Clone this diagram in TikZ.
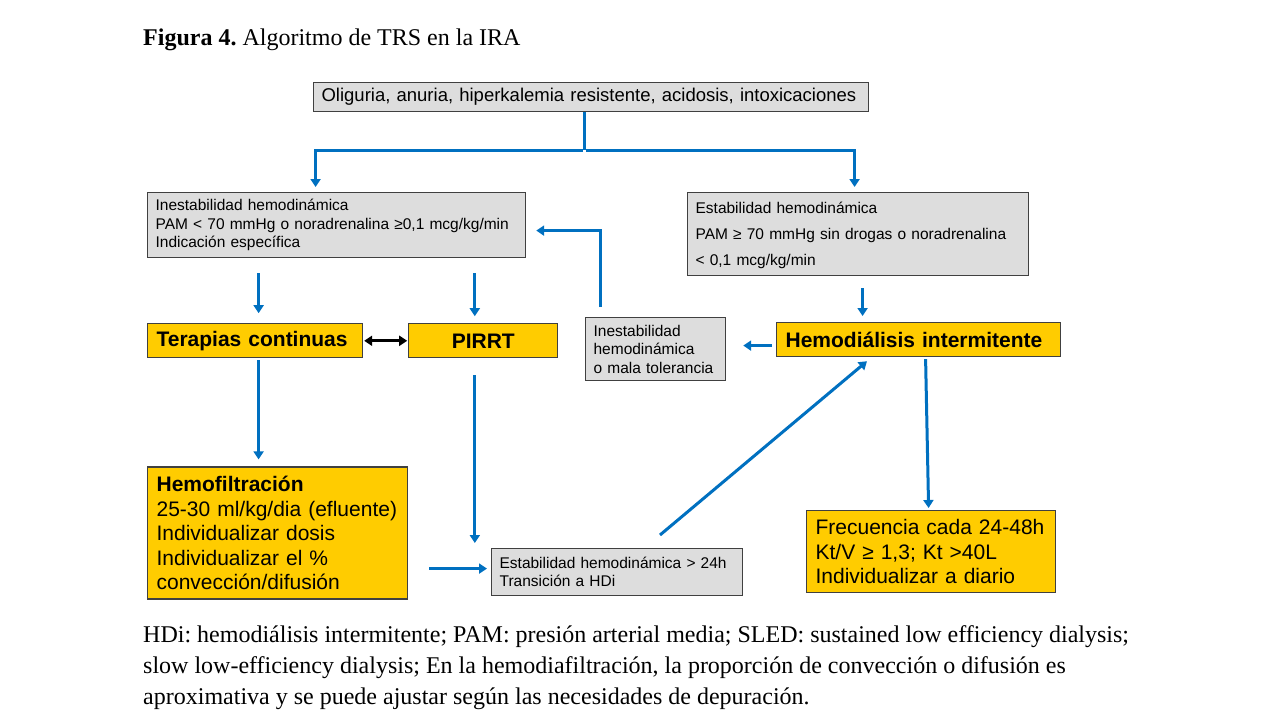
\documentclass[tikz,border=0pt]{standalone}
\usepackage{fontspec}
\setmainfont{Liberation Serif}
\newfontfamily\arialfont{Liberation Sans}
\usetikzlibrary{positioning}
\usetikzlibrary{arrows.meta}
\definecolor{myblue}{HTML}{0070C0}
\definecolor{mygray}{HTML}{DDDDDD}
\definecolor{myyellow}{HTML}{FFCC00}
\definecolor{mycontour}{HTML}{404040}
\newcommand{\boxtext}{\arialfont\fontsize{15.5}{18.5}\selectfont}
\newcommand{\bigtext}{\arialfont\fontsize{21}{24.5}\selectfont}
\frenchspacing

\begin{document}
\begin{tikzpicture}[
    x=1pt, y=-1pt,
    every node/.style={
      inner xsep=9pt,
      inner ysep=0pt,
      anchor=north west
    },
    graybox/.style={
      rectangle,
      align=left,
      inner xsep=8pt,
      draw=mycontour,
      fill=mygray,
      line width=1.2pt,
      font=\boxtext
    },
    yellowbox/.style={
      rectangle,
      align=left,
      draw=mycontour,
      fill=myyellow,
      line width=1.2pt,
      font=\bigtext
    },
    flow/.style={draw=myblue, line width=3pt, -{Triangle[width=10pt,length=8pt]}},
    both/.style={draw=black, line width=3pt,
      {Triangle[width=10pt,length=8pt]}-{Triangle[width=10pt,length=8pt]}}
]
  \useasboundingbox (0,0) rectangle (1280,720);

  \node (titulo) [anchor=base west, inner sep=0pt, font=\fontsize{24}{31}\selectfont]
  at (143,45) {\textbf{Figura 4.} Algoritmo de TRS en la IRA};

  \node (oliguria) [graybox, text width=539pt, minimum height=29pt,
    font=\arialfont\fontsize{18.5}{22}\selectfont] at (313,82) {
    Oliguria, anuria, hiperkalemia resistente, acidosis, intoxicaciones
  };

  \node (inestabilidad) [graybox, text width=362pt, minimum height=65pt] at (147,192) {
    Inestabilidad hemodinámica
    \\ PAM < 70 mmHg o noradrenalina ≥0,1 mcg/kg/min
    \\ Indicación específica
  };

  \node (estabilidad) [graybox, text width=325pt, minimum height=83pt,
    font=\arialfont\fontsize{15.5}{26}\selectfont] at (687,192) {
    \rule{0pt}{14pt}Estabilidad hemodinámica
    \\ PAM ≥ 70 mmHg sin drogas o noradrenalina
    \\ < 0,1 mcg/kg/min
  };

  \node (terapias) [yellowbox, font=\bigtext\bfseries, text width=197pt, minimum height=34pt,
    below right=65pt and 0pt of inestabilidad.south west] {
    Terapias continuas
  };

  \node (pirrt) [yellowbox, font=\bigtext\bfseries, align=center, text width=131pt,
    minimum height=34pt, right=45pt of terapias] {
    PIRRT
  };

  \node (malatolerancia) [graybox, text width=124pt, minimum height=63pt] at (585,317) {
    Inestabilidad
    \\ hemodinámica
    \\ o mala tolerancia
  };

  \node (hemodialisis) [yellowbox, font=\bigtext\bfseries, text width=266pt,
    minimum height=34pt] at (776,322) {
    Hemodiálisis intermitente
  };

  \node (hemofiltracion) [yellowbox, text width=242pt, minimum height=132pt,
    below right=108pt and 0pt of terapias.south west] {
    \textbf{Hemofiltración}
    \\ 25-30 ml/kg/dia (efluente)
    \\ Individualizar dosis
    \\ Individualizar el \%
    \\ convección/difusión
  };

  \node (transicion) [graybox, text width=235pt, minimum height=47pt] at (491,548) {
    Estabilidad hemodinámica > 24h
    \\ Transición a HDi
  };

  \node (frecuencia) [yellowbox, text width=231pt, minimum height=82pt] at (806,510) {
    Frecuencia cada 24-48h
    \\ Kt/V ≥ 1,3; Kt >40L
    \\ Individualizar a diario
  };

  \node (leyenda) [anchor=base west, inner sep=0pt, align=left,
    font=\fontsize{24}{31}\selectfont] at (143,704) {
    HDi: hemodiálisis intermitente; PAM: presión arterial media; SLED: sustained low efficiency dialysis;
    \\ slow low-efficiency dialysis; En la hemodiafiltración, la proporción de convección o difusión es
    \\ aproximativa y se puede ajustar según las necesidades de depuración.
  };

  % reparto desde la indicacion
  \draw[myblue, line width=3pt] ([xshift=-7pt]oliguria.south) -- ++(0,38) coordinate (split);
  \draw[flow, shorten >=5pt] ([xshift=-1.5pt]split) -| ([xshift=-21pt]inestabilidad.north);
  \draw[flow, shorten >=5pt] ([xshift=1.5pt]split) -| ([xshift=-3.5pt]estabilidad.north);

  \draw[flow, shorten <=15pt, shorten >=10pt]
  ([xshift=3.5pt]terapias.north |- inestabilidad.south) -- ([xshift=3.5pt]terapias.north);
  \draw[flow, shorten <=15pt, shorten >=7pt]
  ([xshift=-8.5pt]pirrt.north |- inestabilidad.south) -- ([xshift=-8.5pt]pirrt.north);

  \draw[both, shorten <=1pt, shorten >=1pt] (terapias) -- (pirrt);

  \draw[flow, shorten <=10pt, shorten >=10pt]
  ([xshift=15pt]malatolerancia.north west) |- ([yshift=-5.5pt]inestabilidad.east);

  \draw[flow, shorten <=12pt, shorten >=6pt]
  ([xshift=4.5pt]estabilidad.south) -- ([xshift=4.5pt]estabilidad.south |- hemodialisis.north);

  \draw[flow, shorten <=4pt, shorten >=17pt]
  ([yshift=-6pt]hemodialisis.west) -- ([yshift=-6pt]hemodialisis.west -| malatolerancia.east);

  \draw[flow, shorten <=2pt, shorten >=7pt]
  ([xshift=3.5pt]terapias.south) -- ([xshift=3.5pt]terapias.south |- hemofiltracion.north);
  \draw[flow, shorten <=17pt, shorten >=5pt]
  ([xshift=-8.5pt]pirrt.south) -- ([xshift=-8.5pt]pirrt.south |- transicion.north);

  \draw[flow, shorten <=21pt, shorten >=4pt]
  ([yshift=3.5pt]transicion.west -| hemofiltracion.east) -- ([yshift=3.5pt]transicion.west);

  \draw[flow]
  ([xshift=169pt,yshift=13pt]transicion.north west) -- ([xshift=91pt,yshift=-4pt]hemodialisis.south west);

  \draw[flow]
  ([xshift=7pt,yshift=-2pt]hemodialisis.south) -- ([xshift=-2.5pt,yshift=2pt]frecuencia.north);

\end{tikzpicture}
\end{document}
